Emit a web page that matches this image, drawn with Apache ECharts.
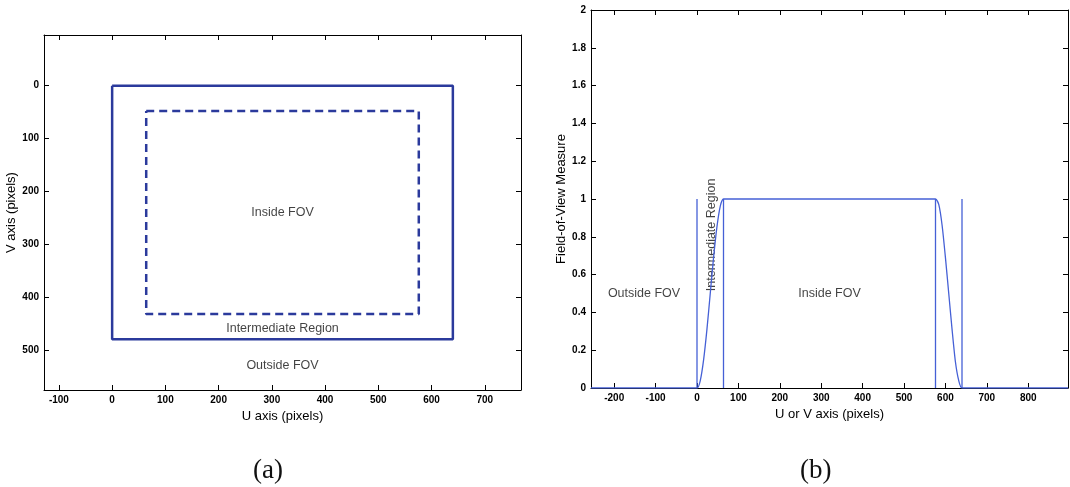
<!DOCTYPE html>
<html>
<head>
<meta charset="utf-8">
<script src="https://cdn.jsdelivr.net/npm/echarts@6/dist/echarts.min.js"></script>
<style>
  html, body { margin: 0; padding: 0; background: #fff; }
  #chart { width: 1070px; height: 487px; }
</style>
</head>
<body>
<div id="chart"></div>
<script>
// (a) image plane: outer border of the image and the inner (dashed) border
const outerU = [0, 640, 640, 0, 0]
const outerV = [0, 0, 480, 480, 0]
const innerU = [64, 576, 576, 64, 64]
const innerV = [48, 48, 432, 432, 48]
const uTicks = [-100, 0, 100, 200, 300, 400, 500, 600, 700]
const vTicks = [0, 100, 200, 300, 400, 500]
const leftNotes = ['Inside FOV', 'Intermediate Region', 'Outside FOV']
const leftNoteU = [320, 320, 320]
const leftNoteV = [240, 460, 530]

// (b) field-of-view measure along U or V
const fovU = [-256, 0, 8, 16, 24, 32, 40, 48, 56, 64, 576, 584, 592, 600, 608, 616, 624, 632, 640, 896]
const fovMeasure = [0, 0, 0.04, 0.15, 0.31, 0.5, 0.69, 0.85, 0.96, 1, 1, 0.97, 0.86, 0.69, 0.5, 0.31, 0.14, 0.04, 0, 0]
const borderU = [0, 64, 576, 640]
const borderTop = [1, 1, 1, 1]
const uvTicks = [-200, -100, 0, 100, 200, 300, 400, 500, 600, 700, 800]
const rightNotes = ['Outside FOV', 'Inside FOV']
const rightNoteU = [-128, 320]
const rightNoteY = [0.5, 0.5]
const midNote = 'Intermediate Region'
const midNoteU = 35
const midNoteY = 0.81

const sans = 'Liberation Sans, Arial, sans-serif'
const dark = '#2b3a9c'
const light = '#4560d6'

// matlab style box axis
function boxAxis(grid, pos, extra) {
    return Object.assign({
        type: 'value',
        gridIndex: grid,
        position: pos,
        axisLine: { show: true, onZero: false, lineStyle: { color: '#000', width: 1 } },
        axisTick: { show: true, inside: true, length: 5, lineStyle: { color: '#000' } },
        axisLabel: { show: false },
        splitLine: { show: false }
    }, extra)
}

function ticksAt(values) {
    return { show: true, inside: true, length: 5, customValues: values, lineStyle: { color: '#000' } }
}

const labelStyle = { show: true, color: '#000', fontSize: 10, fontWeight: 'bold', fontFamily: sans, margin: 5 }
const nameStyle = { color: '#000', fontSize: 13, fontFamily: sans }

const xAxes = [
    boxAxis(0, 'bottom', {
        min: -128, max: 768,
        axisTick: ticksAt(uTicks),
        axisLabel: Object.assign({ customValues: uTicks }, labelStyle),
        name: 'U axis (pixels)', nameLocation: 'middle', nameGap: 18, nameTextStyle: nameStyle
    }),
    boxAxis(0, 'top', { min: -128, max: 768, axisTick: ticksAt(uTicks) }),
    boxAxis(1, 'bottom', {
        min: -256, max: 896,
        axisTick: ticksAt(uvTicks),
        axisLabel: Object.assign({ customValues: uvTicks }, labelStyle),
        name: 'U or V axis (pixels)', nameLocation: 'middle', nameGap: 18, nameTextStyle: nameStyle
    }),
    boxAxis(1, 'top', { min: -256, max: 896, axisTick: ticksAt(uvTicks) })
]

const yAxes = [
    boxAxis(0, 'left', {
        min: -96, max: 576, inverse: true,
        axisTick: ticksAt(vTicks),
        axisLabel: Object.assign({ customValues: vTicks }, labelStyle),
        name: 'V axis (pixels)', nameLocation: 'middle', nameGap: 22, nameTextStyle: nameStyle
    }),
    boxAxis(0, 'right', { min: -96, max: 576, inverse: true, axisTick: ticksAt(vTicks) }),
    boxAxis(1, 'left', {
        min: 0, max: 2, interval: 0.2,
        axisLabel: labelStyle,
        name: 'Field-of-View Measure', nameLocation: 'middle', nameGap: 20, nameTextStyle: nameStyle
    }),
    boxAxis(1, 'right', { min: 0, max: 2, interval: 0.2 })
]

function zip(a, b) {
    return a.map((v, i) => [v, b[i]])
}

function noteSeries(x, y, names, xi, yi, rotate) {
    return {
        type: 'scatter',
        xAxisIndex: xi,
        yAxisIndex: yi,
        symbolSize: 0,
        silent: true,
        data: names.map((n, i) => ({ value: [x[i], y[i]], name: n })),
        label: {
            show: true,
            position: 'inside',
            formatter: '{b}',
            rotate: rotate || 0,
            color: '#111',
            fontSize: 12.5,
            fontFamily: sans
        }
    }
}

const seriesData = [
    {
        type: 'line', xAxisIndex: 0, yAxisIndex: 0, symbol: 'none',
        data: zip(outerU, outerV),
        lineStyle: { color: dark, width: 2.5 }
    },
    {
        type: 'line', xAxisIndex: 0, yAxisIndex: 0, symbol: 'none',
        data: zip(innerU, innerV),
        lineStyle: { color: dark, width: 2.5, type: [8, 5] }
    },
    noteSeries(leftNoteU, leftNoteV, leftNotes, 0, 0),
    {
        type: 'line', xAxisIndex: 2, yAxisIndex: 2, symbol: 'none', smooth: 0.2,
        data: zip(fovU, fovMeasure),
        lineStyle: { color: light, width: 1.3 }
    },
    noteSeries(rightNoteU, rightNoteY, rightNotes, 2, 2),
    noteSeries([midNoteU], [midNoteY], [midNote], 2, 2, 90)
]
// vertical border markers in (b)
borderU.forEach((u, i) => {
    seriesData.push({
        type: 'line', xAxisIndex: 2, yAxisIndex: 2, symbol: 'none',
        data: [[u, 0], [u, borderTop[i]]],
        lineStyle: { color: light, width: 1.3 }
    })
})

const cs = echarts.init(document.getElementById('chart'))
const option = {
    animation: false,
    backgroundColor: '#fff',
    grid: [
        { left: 44, top: 35, width: 477, height: 355 },
        { left: 591, top: 10, width: 477, height: 378 }
    ],
    title: [
        { text: '(a)', left: 248, top: 452, textStyle: { fontFamily: 'Liberation Serif, serif', fontSize: 27, fontWeight: 'normal', color: '#111' } },
        { text: '(b)', left: 795, top: 452, textStyle: { fontFamily: 'Liberation Serif, serif', fontSize: 27, fontWeight: 'normal', color: '#111' } }
    ],
    xAxis: xAxes,
    yAxis: yAxes,
    series: seriesData
}
cs.setOption(option)
</script>
</body>
</html>
